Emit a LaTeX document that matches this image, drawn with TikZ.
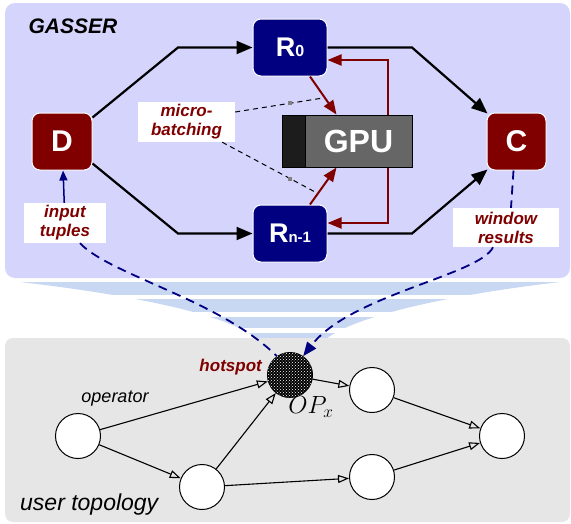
\documentclass[tikz,border=0pt]{standalone}
\usepackage{fontspec}
\setmainfont{Liberation Sans}
\usetikzlibrary{arrows.meta,positioning,patterns}

\definecolor{gasserbg}{RGB}{212,212,252}
\definecolor{funnelbg}{RGB}{200,216,242}
\definecolor{topobg}{RGB}{230,230,230}
\definecolor{darkred}{RGB}{128,0,0}
\definecolor{navyblue}{RGB}{0,0,128}
\definecolor{gpugray}{RGB}{102,102,102}
\definecolor{gpudark}{RGB}{28,28,28}

\newcommand{\setfs}[2]{\fontsize{#1}{#2}\selectfont}

\begin{document}
\begin{tikzpicture}[x=1pt, y=-1pt,
        stage/.style={fill=darkred, draw=white, line width=1pt, rounded corners=8pt, minimum width=60pt, minimum height=57pt, inner sep=0pt, text=white, font=\setfs{30}{30}\bfseries},
        rep/.style={fill=navyblue, draw=white, line width=1pt, rounded corners=8pt, minimum width=74pt, minimum height=57pt, inner sep=0pt, text=white, font=\setfs{27}{27}\bfseries},
        gpubox/.style={fill=gpugray, draw=black, line width=1pt, minimum height=52pt, inner sep=0pt, text=white, font=\setfs{32}{32}\bfseries},
        tag/.style={fill=white, text=darkred, align=center, inner sep=0pt, minimum height=40pt, font=\setfs{17}{19}\bfseries\itshape},
        opnode/.style={circle, draw=black, fill=white, line width=1pt, minimum size=45pt, inner sep=0pt},
        hotop/.style={fill=black, postaction={pattern=crosshatch dots, pattern color=white}},
        flow/.style={line width=2.2pt, -{Triangle[length=16pt,width=13pt]}},
        gpuflow/.style={line width=2pt, darkred, -{Triangle[length=14pt,width=11pt]}},
        link/.style={line width=1.8pt, navyblue, dash pattern=on 9pt off 6pt},
        mbline/.style={line width=1pt, dash pattern=on 5pt off 4pt},
        edge/.style={line width=1.1pt, -{Triangle[open,length=11pt,width=8pt]}}
    ]
        \useasboundingbox (0,0) rectangle (571,523);

        % panels and funnel
        \fill[gasserbg, rounded corners=10pt] (5,3) rectangle (570,278);
        \fill[funnelbg] (20,282) .. controls (150,297) and (235,318) .. (258,340) -- (325,340) .. controls (350,318) and (440,296) .. (560,282) -- cycle;
        \fill[white] (0,295) rectangle (571,299);
        \fill[white] (0,312) rectangle (571,317);
        \fill[white] (0,328) rectangle (571,333);
        \fill[topobg, rounded corners=8pt] (5,338) rectangle (570,522);

        \node[anchor=base west, font=\setfs{21}{21}\bfseries\itshape] (title) at (25,33) {GASSER};

        % GASSER nodes
        \node[stage] (D) at (62,141.5) {D};
        \node[rep] (R0) at (290,47.5) {R{\setfs{16}{16}0}};
        \node[rep] (Rn) at (290,233.5) {R{\setfs{15}{15}n-1}};
        \node[stage, minimum width=59pt] (C) at (516.5,141.5) {C};
        \node[gpubox, minimum width=107pt] (gpu) at (358.5,141) {GPU};
        \node[gpubox, fill=gpudark, minimum width=23pt] (gpuh) at (293.5,141) {};

        \node[tag, minimum width=97pt] (mb) at (186.5,122) {micro-\\batching};
        \node[tag, minimum width=82pt] (in) at (65,223) {input\\tuples};
        \node[tag, minimum width=106pt, minimum height=39pt] (out) at (506,227.5) {window\\results};

        \draw[flow] ([yshift=-5pt]D.north east) -- (178,47.5) -- (R0);
        \draw[flow] ([yshift=7pt]D.south east) -- (178,233.5) -- (Rn);
        \draw[flow] (R0.east) -- (412,47.5) -- ([shift={(1pt,-1pt)}]C.north west);
        \draw[flow] (Rn.east) -- (412,233.5) -- ([shift={(1pt,1pt)}]C.south west);

        \draw[gpuflow] ([xshift=20pt]R0.south) -- ([xshift=32pt]gpu.north west);
        \draw[gpuflow] ([xshift=20pt]Rn.north) -- ([xshift=32pt]gpu.south west);
        \draw[gpuflow] ([xshift=-25pt]gpu.north east) |- ([yshift=-12.5pt]R0.east);
        \draw[gpuflow] ([xshift=-25pt]gpu.south east) |- ([yshift=10.5pt]Rn.east);

        \coordinate (mbup) at (323,98);
        \coordinate (mbdown) at (317,193);
        \draw[mbline] ([yshift=10pt]mb.east) -- coordinate[pos=0.62] (mk1) (mbup);
        \draw[mbline] ([xshift=-13pt]mb.south east) -- coordinate[pos=0.72] (mk2) (mbdown);
        \fill[gray] (mk1) ++(-2,-2) rectangle ++(4,4);
        \fill[gray] (mk2) ++(-2,-2) rectangle ++(4,4);

        % user topology
        \node[opnode] (op) at (78,436) {};
        \node[opnode] (mid) at (202,487) {};
        \node[opnode, hotop] (hot) at (290,375) {};
        \node[opnode] (up) at (372,390) {};
        \node[opnode] (down) at (372,477) {};
        \node[opnode] (sink) at (502,436) {};

        \draw[edge] (op) -- (hot);
        \draw[edge] (op) -- (mid);
        \draw[edge] (mid) -- (hot);
        \draw[edge] (mid) -- (down);
        \draw[edge] (hot) -- (up);
        \draw[edge] (up) -- (sink);
        \draw[edge] (down) -- (sink);

        \node[font=\setfs{18}{18}\itshape] (oplbl) at (115,399) {operator};
        \node[text=darkred, inner sep=0pt, font=\setfs{17}{17}\bfseries\itshape, left=5pt of hot, yshift=8pt] (hslbl) {hotspot};
        \node[inner sep=0pt, font=\setfs{23}{23}] (opx) at (311,407) {$OP_x$};
        \node[anchor=base west, inner sep=0pt, font=\setfs{23}{23}\itshape] (ut) at (20,510) {user topology};

        % mapping to GASSER
        \draw[line width=1.5pt, navyblue, -{Triangle[length=10pt,width=8pt]}] (in) -- (D);
        \draw[link] ([xshift=15pt]in.south) .. controls (110,275) and (220,300) .. (hot.125);
        \draw[link] ([xshift=-3pt]C.south) -- ([xshift=5pt]out.north);
        \draw[link, -{Triangle[length=14pt,width=11pt]}] ([xshift=-13pt]out.south) .. controls (480,275) and (350,295) .. (hot.55);

    \end{tikzpicture}
\end{document}
